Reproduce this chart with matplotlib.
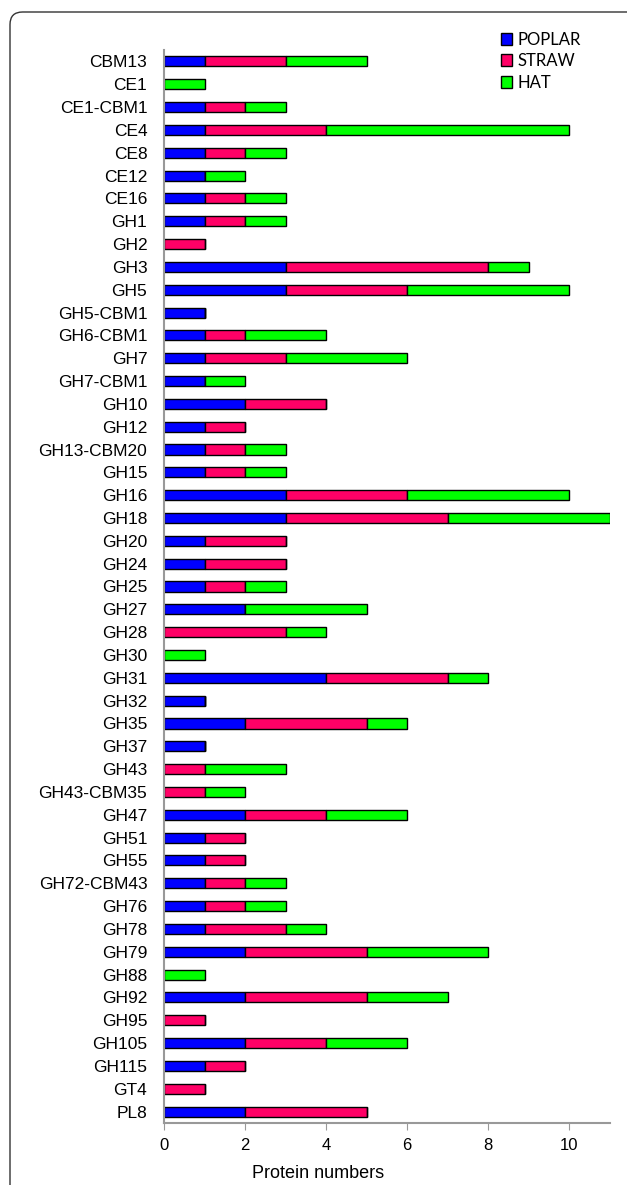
import matplotlib
matplotlib.use("Agg")
import matplotlib.pyplot as plt
from matplotlib.patches import FancyBboxPatch
import numpy as np

categories = ["CBM13", "CE1", "CE1-CBM1", "CE4", "CE8", "CE12", "CE16", "GH1", "GH2", "GH3",
              "GH5", "GH5-CBM1", "GH6-CBM1", "GH7", "GH7-CBM1", "GH10", "GH12", "GH13-CBM20",
              "GH15", "GH16", "GH18", "GH20", "GH24", "GH25", "GH27", "GH28", "GH30", "GH31",
              "GH32", "GH35", "GH37", "GH43", "GH43-CBM35", "GH47", "GH51", "GH55", "GH72-CBM43",
              "GH76", "GH78", "GH79", "GH88", "GH92", "GH95", "GH105", "GH115", "GT4", "PL8"]
poplar = [1, 0, 1, 1, 1, 1, 1, 1, 0, 3,
          3, 1, 1, 1, 1, 2, 1, 1,
          1, 3, 3, 1, 1, 1, 2, 0, 0, 4,
          1, 2, 1, 0, 0, 2, 1, 1, 1,
          1, 1, 2, 0, 2, 0, 2, 1, 0, 2]
straw = [2, 0, 1, 3, 1, 0, 1, 1, 1, 5,
         3, 0, 1, 2, 0, 2, 1, 1,
         1, 3, 4, 2, 2, 1, 0, 3, 0, 3,
         0, 3, 0, 1, 1, 2, 1, 1, 1,
         1, 2, 3, 0, 3, 1, 2, 1, 1, 3]
hat = [2, 1, 1, 6, 1, 1, 1, 1, 0, 1,
       4, 0, 2, 3, 1, 0, 0, 1,
       1, 4, 4, 0, 0, 1, 3, 1, 1, 1,
       0, 1, 0, 2, 1, 2, 0, 0, 1,
       1, 1, 3, 1, 2, 0, 2, 0, 0, 0]
series_names = ["POPLAR", "STRAW", "HAT"]
x_ticks = [0, 2, 4, 6, 8, 10]

colors = ["#0000FF", "#FF0066", "#00FF00"]

fig = plt.figure(figsize=(6.27, 11.85), dpi=100)
ax = fig.add_axes([164/627, 1 - 1123/1185, (609.5-164)/627, (1123-50)/1185])

y = np.arange(len(categories))
p = np.array(poplar); s = np.array(straw); h = np.array(hat)
h_ = 0.44
ax.barh(y, p, height=h_, color=colors[0], edgecolor="black", linewidth=1.0, label=series_names[0])
ax.barh(y, s, left=p, height=h_, color=colors[1], edgecolor="black", linewidth=1.0, label=series_names[1])
ax.barh(y, h, left=p + s, height=h_, color=colors[2], edgecolor="black", linewidth=1.0, label=series_names[2])

ax.set_ylim(len(categories) - 0.5, -0.5)
ax.set_xlim(0, 11)
ax.set_yticks(y)
ax.set_yticklabels(categories, fontsize=12.5, family="Liberation Sans")
ax.set_xticks(x_ticks)
ax.set_xticklabels([str(t) for t in x_ticks], fontsize=12, family="Liberation Sans")
ax.tick_params(axis="y", length=0, pad=12)
ax.tick_params(axis="x", length=5, color="#999999", pad=6)
for side in ["top", "right"]:
    ax.spines[side].set_visible(False)
for side in ["left", "bottom"]:
    ax.spines[side].set_color("#999999")
    ax.spines[side].set_linewidth(1.5)

fig.text(318/627, 1 - 1173/1185, "Protein numbers", fontsize=13, family="Liberation Sans",
         ha="center", va="center")

leg = ax.legend(loc="upper left", bbox_to_anchor=(494/627, 1 - 25/1185), bbox_transform=fig.transFigure,
                frameon=False, prop={"family": "Lato", "size": 12}, handlelength=0.7, handleheight=0.7,
                handletextpad=0.3, labelspacing=0.33, borderaxespad=0)

frame = FancyBboxPatch((10/627, -0.05), 1.1, 1 - 12/1185 + 0.05, boxstyle="round,pad=0,rounding_size=0.02",
                       transform=fig.transFigure, facecolor="none", edgecolor="#333333", linewidth=1.0,
                       mutation_aspect=627/1185)
fig.patches.append(frame)

fig.savefig("out.png", dpi=100)
